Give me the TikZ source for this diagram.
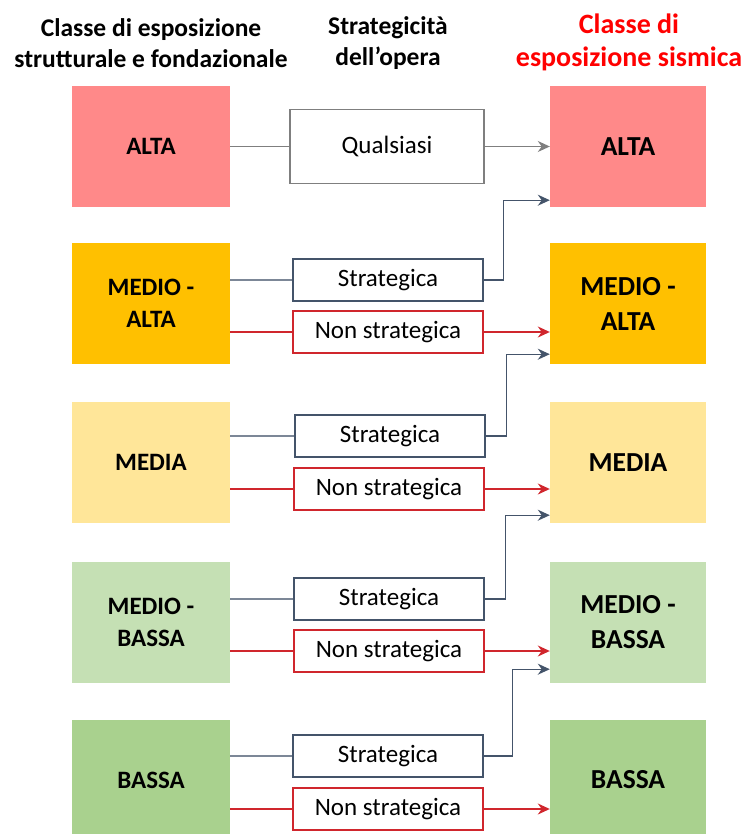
\documentclass[tikz,border=0pt]{standalone}
\usepackage{fontspec}
\setmainfont{Carlito}
\usetikzlibrary{positioning}
\usetikzlibrary{arrows.meta}
\usetikzlibrary{calc}
\definecolor{alta}{HTML}{FF8989}
\definecolor{medioalta}{HTML}{FFC000}
\definecolor{media}{HTML}{FFE699}
\definecolor{mediobassa}{HTML}{C5E0B4}
\definecolor{bassa}{HTML}{A9D18E}
\definecolor{ardesia}{HTML}{44546A}
\definecolor{grigio}{HTML}{7F7F7F}
\definecolor{rosso}{HTML}{D0262D}
\tikzstyle{classe}=[minimum width=158pt,minimum height=121pt,inner sep=0pt,align=center,font=\fontsize{25}{32}\selectfont\bfseries]
\tikzstyle{sismica}=[classe,minimum width=156pt,font=\fontsize{27.5}{35}\selectfont\bfseries]
\tikzstyle{scelta}=[draw=ardesia,line width=1.3pt,fill=white,minimum width=190pt,minimum height=42pt,inner sep=0pt,font=\fontsize{25}{26}\selectfont]
\tikzstyle{nonscelta}=[scelta,draw=rosso]
\tikzstyle{titolo}=[align=center,font=\fontsize{25.5}{31}\selectfont\bfseries]
\tikzstyle{freccia}=[-{Stealth[length=12pt,width=11pt]}]

\begin{document}
\begin{tikzpicture}[x=1pt,y=-1pt]
\useasboundingbox (0,0) rectangle (746,834);

%titoli
\node[titolo] (tsx) at (151,43) {Classe di esposizione\\strutturale e fondazionale};
\node[titolo] (tmid) at (388,43) {Strategicità\\dell’opera};
\node[titolo,text=red,font=\fontsize{28}{33}\selectfont\bfseries] (tdx) at (629,42) {Classe di\\esposizione sismica};

%classi
\foreach \pos/\name/\colore/\label in {{(151,146.5)/l1/alta/ALTA}, {(151,303.5)/l2/medioalta/{MEDIO -\\ALTA}}, {(151,462.5)/l3/media/MEDIA}, {(151,622.5)/l4/mediobassa/{MEDIO -\\BASSA}}, {(151,780)/l5/bassa/BASSA}}
    \node[classe,fill=\colore] (\name) at \pos {\label};
\foreach \pos/\name/\colore/\label in {{(628,146.5)/r1/alta/ALTA}, {(628,303.5)/r2/medioalta/{MEDIO -\\ALTA}}, {(628,462.5)/r3/media/MEDIA}, {(628,622.5)/r4/mediobassa/{MEDIO -\\BASSA}}, {(628,780)/r5/bassa/BASSA}}
    \node[sismica,fill=\colore] (\name) at \pos {\label};

%strategicita
\node[scelta,draw=grigio,minimum width=194pt,minimum height=74pt] (q) at (387,146.5) {Qualsiasi};
\foreach \pos/\name in {{(388,280)/s2}, {(390,436)/s3}, {(389,599)/s4}, {(388,756)/s5}}
    \node[scelta] (\name) at \pos {Strategica};
\foreach \pos/\name in {{(388,332)/n2}, {(389,489)/n3}, {(389,651)/n4}, {(388,809)/n5}}
    \node[nonscelta] (\name) at \pos {Non strategica};

%collegamenti
\draw[grigio,line width=1.3pt] (l1.east |- q.west) -- (q.west);
\draw[grigio,line width=1.3pt,freccia] (q.east) -- (q.east -| r1.west);
\foreach \source/\dest in {l2/s2, l3/s3, l4/s4, l5/s5}
    \draw[ardesia!70,line width=1.3pt] (\source.east |- \dest.west) -- (\dest.west);
\foreach \source/\dest in {l2/n2, l3/n3, l4/n4, l5/n5}
    \draw[rosso,line width=1.3pt] (\source.east |- \dest.west) -- (\dest.west);
\foreach \source/\dx/\dest/\dy in {s2/20/r1/7, s3/21/r2/10, s4/21/r3/8, s5/29/r4/14}
    \draw[ardesia,line width=1.3pt,freccia] (\source.east) -- ++(\dx,0) |- ([yshift=\dy pt]\dest.south west);
\foreach \source/\dest in {n2/r2, n3/r3, n4/r4, n5/r5}
    \draw[rosso,line width=1.3pt,freccia] (\source.east) -- (\source.east -| \dest.west);

\end{tikzpicture}
\end{document}
